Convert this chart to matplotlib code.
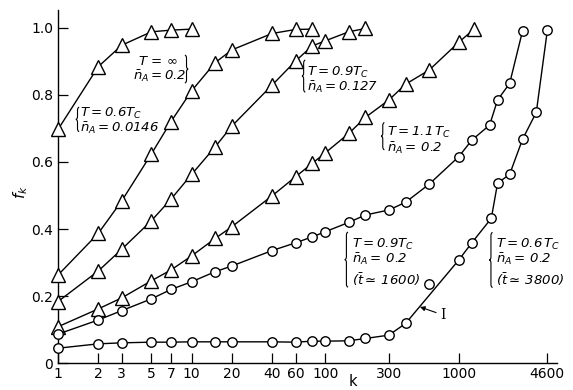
import numpy as np
import matplotlib
matplotlib.use('Agg')
import matplotlib.pyplot as plt
from matplotlib.path import Path
from matplotlib.patches import PathPatch
import matplotlib.transforms as mtransforms
from matplotlib.ticker import NullLocator

plt.rcParams['font.family'] = ['DejaVu Sans']
plt.rcParams['mathtext.fontset'] = 'custom'
plt.rcParams['mathtext.rm'] = 'DejaVu Sans:italic'
plt.rcParams['mathtext.it'] = 'DejaVu Sans:italic'
plt.rcParams['mathtext.sf'] = 'DejaVu Sans:italic'

# ---------------- data ----------------
# T = 0.6 Tc, nA = 0.0146 (triangles)
kA = [1, 2, 3, 5, 7, 10]
fA = [0.697, 0.884, 0.948, 0.988, 0.993, 0.996]

# T = inf, nA = 0.2 (triangles)
kB = [1, 2, 3, 5, 7, 10, 15, 20, 40, 60, 80]
fB = [0.263, 0.387, 0.484, 0.624, 0.720, 0.812, 0.896, 0.934, 0.983, 0.995, 0.996]

# T = 0.9 Tc, nA = 0.127 (triangles)
kC = [1, 2, 3, 5, 7, 10, 15, 20, 40, 60, 80, 100, 150, 200]
fC = [0.184, 0.275, 0.340, 0.425, 0.489, 0.563, 0.645, 0.707, 0.829, 0.901,
      0.946, 0.961, 0.988, 0.998]

# T = 1.1 Tc, nA = 0.2 (triangles)
kD = [1, 2, 3, 5, 7, 10, 15, 20, 40, 60, 80, 100, 150, 200, 300, 400, 600,
      1000, 1300]
fD = [0.109, 0.162, 0.195, 0.246, 0.278, 0.320, 0.372, 0.407, 0.499, 0.556,
      0.596, 0.627, 0.685, 0.733, 0.785, 0.832, 0.874, 0.957, 0.996]

# T = 0.9 Tc, nA = 0.2, t ~ 1600 (circles)
kE = [1, 2, 3, 5, 7, 10, 15, 20, 40, 60, 80, 100, 150, 200, 300, 400, 600,
      1000, 1250, 1700, 1950, 2400, 3000]
fE = [0.087, 0.129, 0.157, 0.192, 0.220, 0.243, 0.273, 0.290, 0.336, 0.359,
      0.377, 0.392, 0.420, 0.442, 0.457, 0.480, 0.534, 0.616, 0.665, 0.710,
      0.785, 0.834, 0.991]

# T = 0.6 Tc, nA = 0.2, t ~ 3800 (circles)
kF = [1, 2, 3, 5, 7, 10, 15, 20, 40, 60, 80, 100, 150, 200, 300, 400, 1000,
      1250, 1750, 1950, 2400, 3000, 3800, 4600]
fF = [0.045, 0.058, 0.061, 0.063, 0.063, 0.064, 0.064, 0.064, 0.064, 0.063,
      0.066, 0.066, 0.067, 0.074, 0.084, 0.119, 0.308, 0.359, 0.432, 0.537,
      0.563, 0.668, 0.748, 0.993]
# off-curve point of the T = 0.6 Tc, nA = 0.2 set
kF_out = [600]
fF_out = [0.236]

xtick_vals = [1, 2, 3, 5, 7, 10, 20, 40, 60, 100, 300, 1000, 4600]
xtick_labels = ['1', '2', '3', '5', '7', '10', '20', '40', '60', '100', '300',
                '1000', '4600']
ytick_vals = [0, 0.2, 0.4, 0.6, 0.8, 1.0]
ytick_labels = ['0', '0.2', '0.4', '0.6', '0.8', '1.0']

# ---------------- figure ----------------
fig = plt.figure(figsize=(5.73, 3.9), dpi=100)
ax = fig.add_axes([58 / 573, (390 - 363.3) / 390, 499 / 573, 353.3 / 390])
ax.set_xscale('log')
ax.set_xlim(1, 5430)
ax.set_ylim(0, 1.053)

tri = dict(marker='^', ms=10, mfc='white', mec='black', mew=1.0,
           color='black', lw=1.0, clip_on=False, zorder=3)
circ = dict(marker='o', ms=6.8, mfc='white', mec='black', mew=1.0,
            color='black', lw=1.0, clip_on=False, zorder=3)

for k, f in [(kA, fA), (kB, fB), (kC, fC), (kD, fD)]:
    ax.plot(k, f, **tri)
for k, f in [(kE, fE), (kF, fF)]:
    ax.plot(k, f, **circ)
ax.plot(kF_out, fF_out, linestyle='none', marker='o', ms=6.8, mfc='white',
        mec='black', mew=1.0, zorder=3)

# axes styling
for s in ['top', 'right']:
    ax.spines[s].set_visible(False)
for s in ['left', 'bottom']:
    ax.spines[s].set_linewidth(1.0)
ax.set_xticks(xtick_vals)
ax.set_xticklabels(xtick_labels)
ax.xaxis.set_minor_locator(NullLocator())
ax.set_yticks(ytick_vals)
ax.set_yticklabels(ytick_labels)
ax.tick_params(direction='in', length=7, width=0.9, labelsize=10)
ax.tick_params(axis='x', pad=3)
ax.tick_params(axis='y', pad=3.5)

ax.set_xlabel('k', fontsize=10.5, va='top')
ax.xaxis.set_label_coords(0.591, -0.030)
ax.set_ylabel(r'$f_k$', fontsize=11)
ax.yaxis.set_label_coords(-0.056, 0.485)


# ---------------- annotations ----------------
def brace(k, f, h_pt, side='left', w_pt=2.4):
    H = h_pt / 2.0
    r = min(2.2, H / 3)
    w = w_pt
    verts = [(w, H), (w / 2, H), (w / 2, H - r), (w / 2, r), (w / 2, 0),
             (0, 0), (w / 2, 0), (w / 2, -r), (w / 2, -H + r), (w / 2, -H),
             (w, -H)]
    codes = [Path.MOVETO, Path.CURVE3, Path.CURVE3, Path.LINETO, Path.CURVE3,
             Path.CURVE3, Path.CURVE3, Path.CURVE3, Path.LINETO, Path.CURVE3,
             Path.CURVE3]
    if side == 'right':
        verts = [(w - x, y) for x, y in verts]
    trans = (mtransforms.Affine2D().scale(1 / 72.0) + fig.dpi_scale_trans +
             mtransforms.ScaledTranslation(k, f, ax.transData))
    p = PathPatch(Path(verts, codes), fill=False, lw=0.8, edgecolor='black',
                  transform=trans, clip_on=False)
    ax.add_patch(p)


fs = 9.5
tk = dict(fontsize=fs, ha='left', va='baseline', linespacing=1.0)

# T = 0.6 Tc, nA = 0.0146
brace(1.36, 0.727, 17.5)
ax.text(1.46, 0.689, '$T{=}0.6T_C$\n' + r'$\bar{n}_A{=}0.0146$', **tk)

# T = inf
ax.text(3.97, 0.889, r'$T\,{=}\,\infty$', **tk)
ax.text(3.64, 0.844, r'$\bar{n}_A{=}0.2$', **tk)
brace(8.9, 0.877, 20, side='right')

# T = 0.9 Tc, nA = 0.127
brace(67, 0.856, 23)
ax.text(72.7, 0.811, '$T{=}0.9T_C$\n' + r'$\bar{n}_A{=}0.127$', **tk)

# T = 1.1 Tc
brace(262, 0.677, 19.5)
ax.text(289, 0.630, r'$T{=}1.1\,T_C$' + '\n' + r'$\bar{n}_A{=}\,0.2$', **tk)

# T = 0.9 Tc, nA = 0.2
brace(140, 0.309, 39.5)
ax.text(158, 0.298, '$T{=}0.9T_C$\n' + r'$\bar{n}_A{=}\,0.2$', **tk)
ax.text(158, 0.233, r'$(\bar{t}{\simeq}\,1600)$', **tk)

# T = 0.6 Tc, nA = 0.2
brace(1690, 0.308, 39.5)
ax.text(1900, 0.298, r'$T{=}0.6\,T_C$' + '\n' + r'$\bar{n}_A{=}\,0.2$', **tk)
ax.text(1900, 0.233, r'$(\bar{t}{\simeq}\,3800)$', **tk)

# marker I
ax.annotate('I', xy=(512, 0.168), xytext=(725, 0.144), fontsize=10,
            family='DejaVu Serif', ha='left', va='center',
            arrowprops=dict(arrowstyle='-|>', lw=0.8, color='black',
                            mutation_scale=7, shrinkA=1, shrinkB=0))

fig.savefig('out.png', dpi=100)
